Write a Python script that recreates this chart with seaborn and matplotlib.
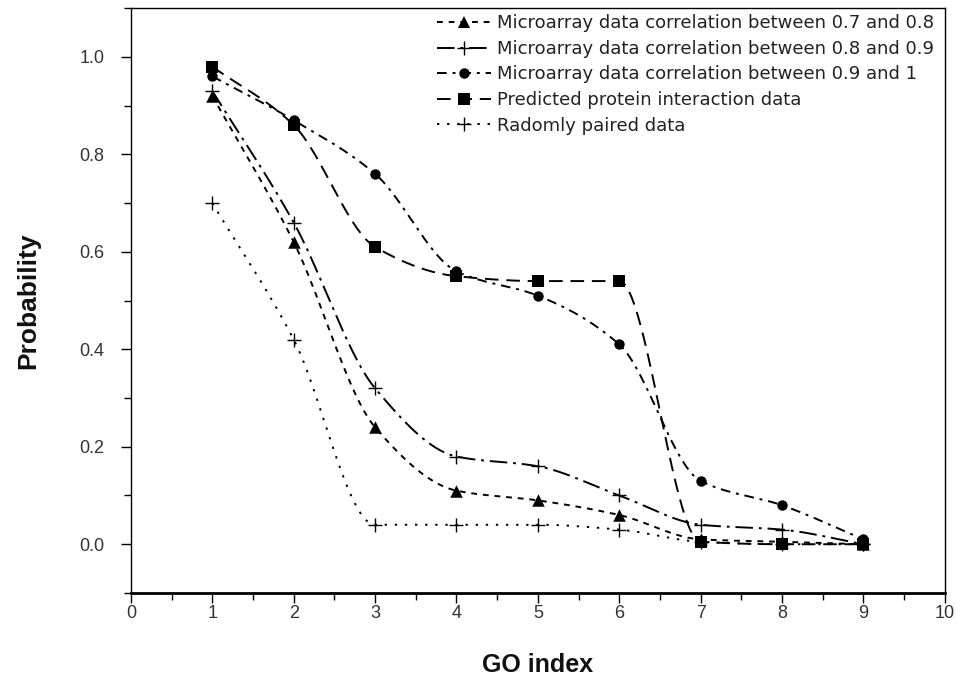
import numpy as np
import pandas as pd
import matplotlib
matplotlib.use("Agg")
import matplotlib.pyplot as plt
import seaborn as sns
from matplotlib.ticker import MultipleLocator

go_index = [1, 2, 3, 4, 5, 6, 7, 8, 9]
corr_07_08 = [0.92, 0.62, 0.24, 0.11, 0.09, 0.06, 0.01, 0.005, 0.0]
corr_08_09 = [0.93, 0.66, 0.32, 0.18, 0.16, 0.10, 0.04, 0.03, 0.0]
corr_09_10 = [0.96, 0.87, 0.76, 0.56, 0.51, 0.41, 0.13, 0.08, 0.01]
predicted = [0.98, 0.86, 0.61, 0.55, 0.54, 0.54, 0.005, 0.0, 0.0]
random_pairs = [0.70, 0.42, 0.04, 0.04, 0.04, 0.03, 0.005, 0.0, 0.0]

labels = [
    "Microarray data correlation between 0.7 and 0.8",
    "Microarray data correlation between 0.8 and 0.9",
    "Microarray data correlation between 0.9 and 1",
    "Predicted protein interaction data",
    "Radomly paired data",
]
series = [corr_07_08, corr_08_09, corr_09_10, predicted, random_pairs]
markers = ["^", "+", "o", "s", "+"]
msizes = [9, 10, 7.5, 8, 10]
dashes = [(0, (3, 3)), (0, (9, 3, 1.5, 3)), (0, (5, 3, 1.5, 3)), (0, (7, 4)), (0, (1.2, 4))]


def pchip(x, y, xs):
    x = np.asarray(x, float)
    y = np.asarray(y, float)
    h = np.diff(x)
    d = np.diff(y) / h
    n = len(x)
    m = np.zeros(n)
    for k in range(1, n - 1):
        if d[k - 1] * d[k] > 0:
            w1 = 2 * h[k] + h[k - 1]
            w2 = h[k] + 2 * h[k - 1]
            m[k] = (w1 + w2) / (w1 / d[k - 1] + w2 / d[k])
    m[0] = d[0]
    m[-1] = d[-1]
    idx = np.clip(np.searchsorted(x, xs) - 1, 0, n - 2)
    t = (xs - x[idx]) / h[idx]
    h00 = 2 * t**3 - 3 * t**2 + 1
    h10 = t**3 - 2 * t**2 + t
    h01 = -2 * t**3 + 3 * t**2
    h11 = t**3 - t**2
    return h00 * y[idx] + h10 * h[idx] * m[idx] + h01 * y[idx + 1] + h11 * h[idx] * m[idx + 1]


sns.set_theme(style="white")
plt.rcParams["font.family"] = ["Liberation Sans", "DejaVu Sans"]

fig = plt.figure(figsize=(9.63, 6.8), dpi=100)
ax = fig.add_axes([0.136, 0.128, 0.845, 0.86])

xs = np.linspace(1, 9, 400)
handles = []
for lab, ys, mk, ms, ls in zip(labels, series, markers, msizes, dashes):
    smooth = pchip(go_index, ys, xs)
    df_s = pd.DataFrame({"x": xs, "y": smooth})
    sns.lineplot(data=df_s, x="x", y="y", ax=ax, color="black", lw=1.4,
                 linestyle=ls, estimator=None, sort=False)
    df = pd.DataFrame({"x": go_index, "y": ys})
    sns.scatterplot(data=df, x="x", y="y", ax=ax, marker=mk, s=ms**2,
                    color="black", edgecolor="black",
                    linewidth=1.0 if mk == "+" else 0, zorder=5)
    h, = ax.plot([], [], color="black", lw=1.4, linestyle=ls, marker=mk,
                 markersize=ms, markeredgewidth=1.0 if mk == "+" else 0)
    handles.append(h)

ax.set_xlim(0, 10)
ax.set_ylim(-0.1, 1.1)
ax.xaxis.set_major_locator(MultipleLocator(1))
ax.xaxis.set_minor_locator(MultipleLocator(0.5))
ax.yaxis.set_minor_locator(MultipleLocator(0.1))
ax.set_yticks([0.0, 0.2, 0.4, 0.6, 0.8, 1.0])
ax.set_yticklabels(["0.0", "0.2", "0.4", "0.6", "0.8", "1.0"])
ax.tick_params(which="both", direction="out", bottom=True, left=True,
               top=False, right=False, color="black", labelsize=13,
               labelcolor="#333333")
ax.tick_params(which="major", length=7, width=1)
ax.tick_params(which="minor", length=5, width=1)
ax.tick_params(axis="y", which="major", pad=12)
ax.tick_params(axis="x", which="major", pad=2)
for side, sp in ax.spines.items():
    sp.set_color("black")
    sp.set_linewidth(1.0)
ax.spines["bottom"].set_linewidth(2.0)

ax.set_xlabel("GO index", fontsize=18, fontweight="bold", labelpad=22, color="#111111")
ax.set_ylabel("Probability", fontsize=19, fontweight="bold", labelpad=28, color="#111111")

leg = ax.legend(handles, labels, loc="upper right", bbox_to_anchor=(1.0, 1.008),
                frameon=False, prop={"family": "DejaVu Sans", "size": 13},
                handlelength=3.0, handletextpad=0.3,
                labelspacing=0.42, borderaxespad=0.2)
for t in leg.get_texts():
    t.set_color("#222222")

fig.savefig("out.png", dpi=100)
